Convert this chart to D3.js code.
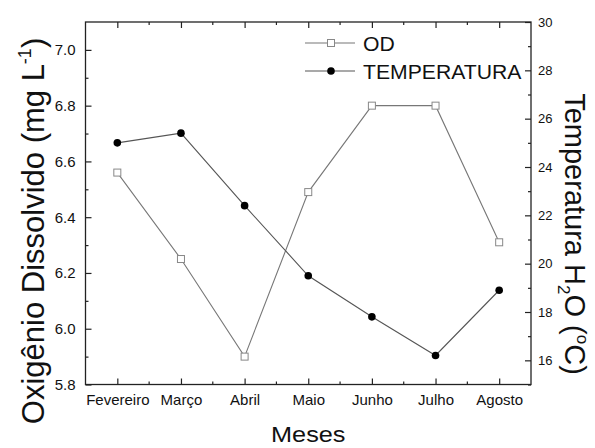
<!DOCTYPE html>
<html><head><meta charset="utf-8">
<script src="https://cdn.jsdelivr.net/npm/d3@7"></script>
<style>body{margin:0;background:#fff}svg{display:block}text{font-family:"Liberation Sans",Arial,sans-serif}</style>
</head><body>
<svg id="c" width="595" height="448"></svg>
<script>
const months = ["Fevereiro","Março","Abril","Maio","Junho","Julho","Agosto"];
const odValues = [6.56, 6.25, 5.90, 6.49, 6.80, 6.80, 6.31];
const tempValues = [25.0, 25.4, 22.4, 19.5, 17.8, 16.2, 18.9];
const leftTicks = [5.8, 6.0, 6.2, 6.4, 6.6, 6.8, 7.0];
const leftMinor = [5.9, 6.1, 6.3, 6.5, 6.7, 6.9];
const rightTicks = [16, 18, 20, 22, 24, 26, 28, 30];
const rightMinor = [15, 17, 19, 21, 23, 25, 27, 29];

const L = 85.5, R = 531, T = 22, B = 384.5;
const svg = d3.select("#c");
const x = d3.scalePoint().domain(months).range([L, R]).padding(0.5);
const yL = d3.scaleLinear().domain([5.8, 7.1]).range([B, T]);
const yR = d3.scaleLinear().domain([15, 30]).range([B, T]);
const step = x.step();
const minorX = months.slice(0, -1).map((m) => x(m) + step / 2);

function styleAxis(g) {
  g.select(".domain").remove();
  g.selectAll(".tick line").attr("stroke", "#222").attr("stroke-width", 1.2);
}
// bottom axis
svg.append("g").attr("transform", `translate(0,${B})`)
  .call(d3.axisBottom(x).tickSize(-6).tickPadding(10))
  .call(styleAxis)
  .call(g => g.selectAll("text").attr("font-size", 15).attr("fill", "#111"));
svg.append("g").selectAll("line").data(minorX).join("line")
  .attr("x1", d => d).attr("x2", d => d).attr("y1", B).attr("y2", B - 3)
  .attr("stroke", "#222").attr("stroke-width", 1.2);
// top axis
svg.append("g").attr("transform", `translate(0,${T})`)
  .call(d3.axisTop(x).tickSize(-6).tickFormat(""))
  .call(styleAxis);
svg.append("g").selectAll("line").data(minorX).join("line")
  .attr("x1", d => d).attr("x2", d => d).attr("y1", T).attr("y2", T + 3)
  .attr("stroke", "#222").attr("stroke-width", 1.2);
// left axis
svg.append("g").attr("transform", `translate(${L},0)`)
  .call(d3.axisLeft(yL).tickValues(leftTicks).tickFormat(d3.format(".1f")).tickSize(-6).tickPadding(10))
  .call(styleAxis)
  .call(g => g.selectAll("text").attr("font-size", 15).attr("fill", "#111"));
svg.append("g").attr("transform", `translate(${L},0)`)
  .call(d3.axisLeft(yL).tickValues(leftMinor).tickFormat("").tickSize(-3))
  .call(styleAxis);
// right axis
svg.append("g").attr("transform", `translate(${R},0)`)
  .call(d3.axisRight(yR).tickValues(rightTicks).tickFormat(d3.format("d")).tickSize(-6).tickPadding(7))
  .call(styleAxis)
  .call(g => g.selectAll("text").attr("font-size", 13).attr("fill", "#111"));
svg.append("g").attr("transform", `translate(${R},0)`)
  .call(d3.axisRight(yR).tickValues(rightMinor).tickFormat("").tickSize(-3))
  .call(styleAxis);
// frame
svg.append("rect").attr("x", L).attr("y", T).attr("width", R - L).attr("height", B - T)
  .attr("fill", "none").attr("stroke", "#222").attr("stroke-width", 1.3);

// OD line
const lineOD = d3.line().x((d, i) => x(months[i])).y(d => yL(d));
svg.append("path").attr("d", lineOD(odValues)).attr("fill", "none").attr("stroke", "#777").attr("stroke-width", 1.1);
const lineT = d3.line().x((d, i) => x(months[i])).y(d => yR(d));
svg.append("path").attr("d", lineT(tempValues)).attr("fill", "none").attr("stroke", "#555").attr("stroke-width", 1.1);
svg.append("g").selectAll("rect").data(odValues).join("rect")
  .attr("x", (d, i) => x(months[i]) - 3.5).attr("y", d => yL(d) - 3.5)
  .attr("width", 7).attr("height", 7).attr("fill", "#fff").attr("stroke", "#888").attr("stroke-width", 1);
svg.append("g").selectAll("circle").data(tempValues).join("circle")
  .attr("cx", (d, i) => x(months[i])).attr("cy", d => yR(d)).attr("r", 3.8).attr("fill", "#000");

// legend
const leg = svg.append("g");
leg.append("line").attr("x1", 305).attr("x2", 355).attr("y1", 43).attr("y2", 43).attr("stroke", "#777").attr("stroke-width", 1.1);
leg.append("rect").attr("x", 331 - 3.5).attr("y", 43 - 3.5).attr("width", 7).attr("height", 7).attr("fill", "#fff").attr("stroke", "#888");
leg.append("text").attr("transform", "translate(363,51) scale(1.06,1)").attr("font-size", 20).attr("fill", "#111").text("OD");
leg.append("line").attr("x1", 305).attr("x2", 355).attr("y1", 71).attr("y2", 71).attr("stroke", "#555").attr("stroke-width", 1.1);
leg.append("circle").attr("cx", 331).attr("cy", 71).attr("r", 3.8).attr("fill", "#000");
leg.append("text").attr("transform", "translate(363,79) scale(1.06,1)").attr("font-size", 20).attr("fill", "#111").text("TEMPERATURA");

// axis titles
svg.append("text").attr("transform", `translate(${(L + R) / 2},442) scale(1.15,1)`)
  .attr("text-anchor", "middle").attr("font-size", 22).attr("fill", "#111").text("Meses");
const lt = svg.append("text").attr("transform", "translate(44,231) rotate(-90)")
  .attr("text-anchor", "middle").attr("font-size", 31).attr("fill", "#111");
lt.append("tspan").text("Oxigênio Dissolvido (mg L");
lt.append("tspan").attr("font-size", 18).attr("dy", -13).text("-1");
lt.append("tspan").attr("dy", 13).text(")");
const rt = svg.append("text").attr("transform", "translate(565,234) rotate(90)")
  .attr("text-anchor", "middle").attr("font-size", 29).attr("fill", "#111");
rt.append("tspan").text("Temperatura H");
rt.append("tspan").attr("font-size", 17).attr("dy", 7).text("2");
rt.append("tspan").attr("dy", -7).text("O (");
rt.append("tspan").attr("font-size", 17).attr("dy", -12).text("o");
rt.append("tspan").attr("dy", 12).text("C)");
</script>
</body></html>
